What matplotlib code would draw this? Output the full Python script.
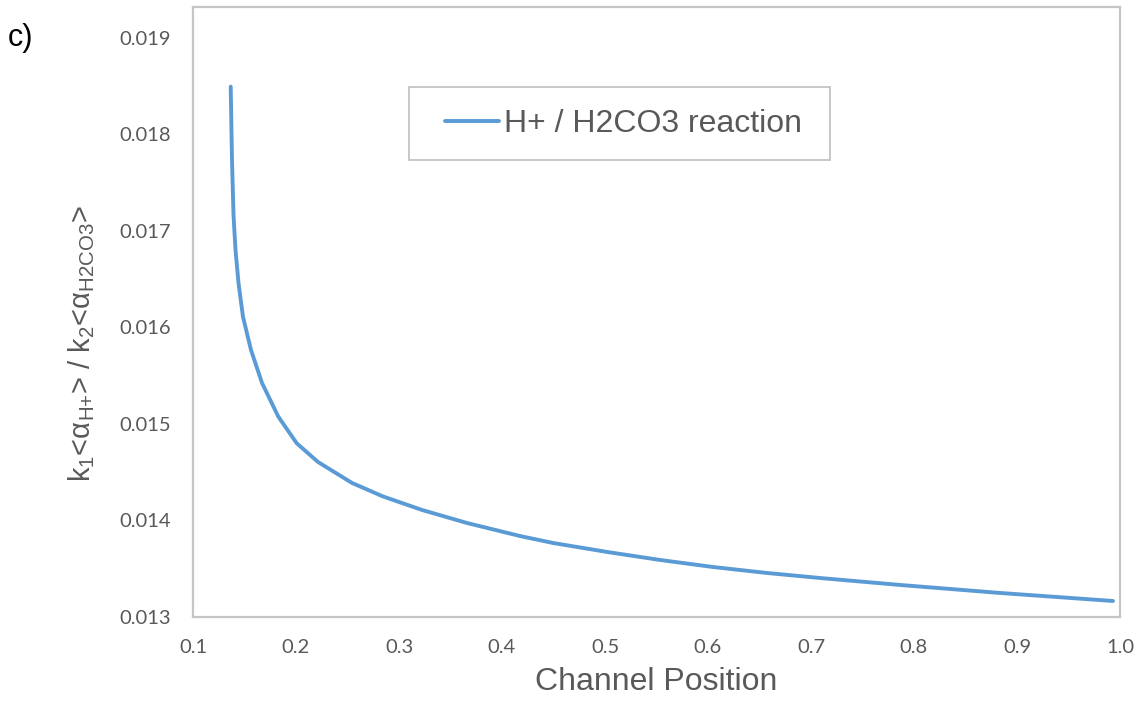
import matplotlib
matplotlib.use("Agg")
import matplotlib.pyplot as plt
from matplotlib.patches import Rectangle

# Data
position = [0.13660, 0.13786, 0.13932, 0.14126, 0.14417, 0.14854, 0.15631,
            0.16699, 0.18282, 0.20068, 0.22136, 0.25437, 0.28447, 0.32233,
            0.36602, 0.41748, 0.44951, 0.50194, 0.55340, 0.60485, 0.65728,
            0.70874, 0.78641, 0.88350, 0.99320]
ratio = [0.018495, 0.017736, 0.017166, 0.016803, 0.016461, 0.016109, 0.015767,
         0.015425, 0.015076, 0.014800, 0.014606, 0.014389, 0.014249, 0.014109,
         0.013974, 0.013839, 0.013767, 0.013674, 0.013591, 0.013518, 0.013456,
         0.013404, 0.013332, 0.013249, 0.013166]
series_label = "H+ / H2CO3 reaction"
x_ticks = [0.1, 0.2, 0.3, 0.4, 0.5, 0.6, 0.7, 0.8, 0.9, 1.0]
x_tick_labels = ["0.1", "0.2", "0.3", "0.4", "0.5", "0.6", "0.7", "0.8", "0.9", "1.0"]
y_ticks = [0.013, 0.014, 0.015, 0.016, 0.017, 0.018, 0.019]
y_tick_labels = ["0.013", "0.014", "0.015", "0.016", "0.017", "0.018", "0.019"]

plt.rcParams['font.family'] = ['Liberation Sans', 'DejaVu Sans']
plt.rcParams['mathtext.fontset'] = 'custom'
plt.rcParams['mathtext.rm'] = 'Liberation Sans'
plt.rcParams['mathtext.it'] = 'Liberation Sans'
plt.rcParams['mathtext.sf'] = 'Liberation Sans'

TXT = '#595959'
EDGE = '#c6c6c6'
W, H = 1144, 704

fig = plt.figure(figsize=(W / 100, H / 100), dpi=100)
ax = fig.add_axes([193 / W, 87 / H, (1120 - 193) / W, (617 - 7) / H])

ax.plot(position, ratio, color='#5B9BD5', linewidth=2.8,
        solid_capstyle='round', solid_joinstyle='round', label=series_label)

ax.set_xlim(0.1, 1.0)
ax.set_ylim(0.013, 0.01932)
ax.set_xticks(x_ticks)
ax.set_xticklabels(x_tick_labels)
ax.set_yticks(y_ticks)
ax.set_yticklabels(y_tick_labels)
ax.tick_params(length=0, labelcolor=TXT, labelsize=14.5)
ax.tick_params(axis='y', pad=16)
ax.tick_params(axis='x', pad=16)
for lab in ax.get_xticklabels() + ax.get_yticklabels():
    lab.set_fontfamily(['Lato', 'DejaVu Sans'])

for s in ax.spines.values():
    s.set_color(EDGE)
    s.set_linewidth(1.6)

ax.set_xlabel("Channel Position", fontsize=23, color=TXT, labelpad=8)
ax.set_ylabel(r"k$_{1}$<α$_{\mathrm{H{+}}}$> / k$_{2}$<α$_{\mathrm{H2CO3}}$>",
              fontsize=21, color=TXT)
ax.yaxis.set_label_coords((97 - 193) / 927, (617 - 343) / 610)

# legend (frame drawn separately to match the reference padding)
leg = fig.legend(loc='center left', bbox_to_anchor=(445 / W, 1 - 124 / H),
                 fontsize=23, frameon=False, handlelength=1.69,
                 handletextpad=0.16, borderpad=0, borderaxespad=0)
for t in leg.get_texts():
    t.set_color(TXT)
fig.patches.append(Rectangle((409 / W, 1 - 160 / H), (830 - 409) / W, (160 - 87) / H,
                             transform=fig.transFigure, facecolor='none',
                             edgecolor='#bfbfbf', linewidth=1.2, zorder=5))

fig.text(8 / W, 1 - 38 / H, "c)", fontsize=22, color='black', va='center', ha='left')

fig.savefig("out.png", dpi=100)
